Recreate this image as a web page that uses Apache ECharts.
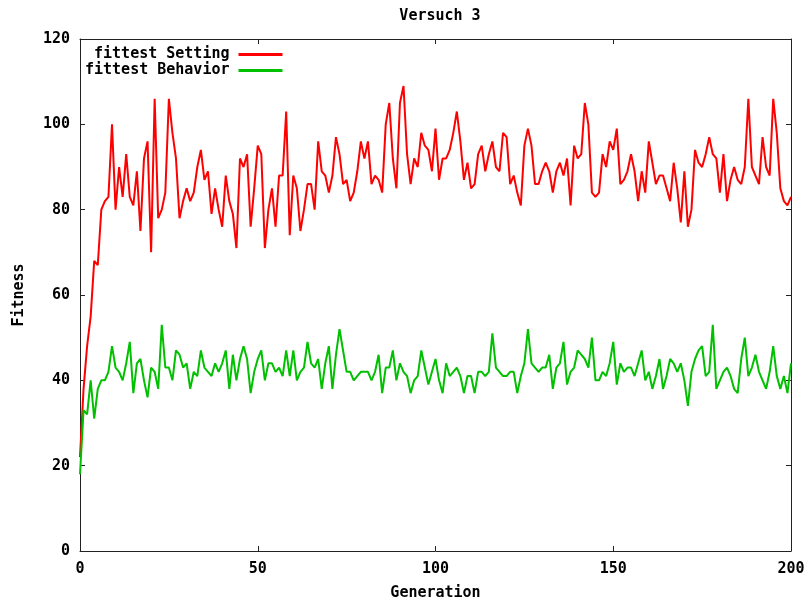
<!DOCTYPE html>
<html>
<head>
    <meta http-equiv="content-type" content="text/html; charset=utf-8">
    <script src="https://cdn.jsdelivr.net/npm/echarts@6/dist/echarts.min.js"></script>
    <style>
        html, body { margin: 0; padding: 0; background: #fff; }
        #main { width: 808px; height: 600px; }
    </style>
</head>
<body>
<div id="main"></div>
<script>
    // Werte pro Generation 0..200
    var fittestSetting = [
        22, 38, 48, 55, 68, 67, 80, 82, 83, 100,
        80, 90, 83, 93, 83, 81, 89, 75, 92, 96,
        70, 106, 78, 80, 84, 106, 98, 92, 78, 82,
        85, 82, 84, 90, 94, 87, 89, 79, 85, 80,
        76, 88, 82, 79, 71, 92, 90, 93, 76, 85,
        95, 93, 71, 80, 85, 76, 88, 88, 103, 74,
        88, 85, 75, 80, 86, 86, 80, 96, 89, 88,
        84, 88, 97, 93, 86, 87, 82, 84, 89, 96,
        92, 96, 86, 88, 87, 84, 100, 105, 92, 85,
        105, 109, 93, 86, 92, 90, 98, 95, 94, 89,
        99, 87, 92, 92, 94, 98, 103, 96, 87, 91,
        85, 86, 93, 95, 89, 93, 96, 90, 89, 98,
        97, 86, 88, 84, 81, 95, 99, 95, 86, 86,
        89, 91, 89, 84, 89, 91, 88, 92, 81, 95,
        92, 93, 105, 100, 84, 83, 84, 93, 90, 96,
        94, 99, 86, 87, 89, 93, 89, 82, 89, 84,
        96, 91, 86, 88, 88, 85, 82, 91, 85, 77,
        89, 76, 80, 94, 91, 90, 93, 97, 93, 92,
        84, 93, 82, 87, 90, 87, 86, 90, 106, 90,
        88, 86, 97, 90, 88, 106, 98, 85, 82, 81,
        83
    ];
    var fittestBehavior = [
        18, 33, 32, 40, 31, 38, 40, 40, 42, 48,
        43, 42, 40, 44, 49, 37, 44, 45, 40, 36,
        43, 42, 38, 53, 43, 43, 40, 47, 46, 43,
        44, 38, 42, 41, 47, 43, 42, 41, 44, 42,
        44, 47, 38, 46, 40, 45, 48, 45, 37, 42,
        45, 47, 40, 44, 44, 42, 43, 41, 47, 41,
        47, 40, 42, 43, 49, 44, 43, 45, 38, 44,
        48, 38, 46, 52, 47, 42, 42, 40, 41, 42,
        42, 42, 40, 42, 46, 37, 43, 43, 47, 40,
        44, 42, 41, 37, 40, 41, 47, 43, 39, 42,
        45, 40, 37, 44, 41, 42, 43, 41, 37, 41,
        41, 37, 42, 42, 41, 42, 51, 43, 42, 41,
        41, 42, 42, 37, 41, 44, 52, 44, 43, 42,
        43, 43, 46, 38, 43, 44, 49, 39, 42, 43,
        47, 46, 45, 43, 50, 40, 40, 42, 41, 44,
        49, 39, 44, 42, 43, 43, 41, 44, 47, 40,
        42, 38, 41, 45, 38, 41, 45, 44, 42, 44,
        40, 34, 42, 45, 47, 48, 41, 42, 53, 38,
        40, 42, 43, 41, 38, 37, 45, 50, 41, 43,
        46, 42, 40, 38, 42, 48, 41, 38, 41, 37,
        44
    ];
    var generations = fittestSetting.map(function (v, i) { return i; });

    var font = 'DejaVu Sans Mono';
    var txt = { fontFamily: font, fontWeight: 'bold', fontSize: 15, color: '#000' };

    function pairs(values) {
        return generations.map(function (g, i) { return [g, values[i]]; });
    }

    var axisLine = { show: true, onZero: false, lineStyle: { color: '#222', width: 1 } };
    var tick = { show: true, inside: true, length: 5, lineStyle: { color: '#222' } };

    var option = {
        animation: false,
        backgroundColor: '#fff',
        title: {
            text: 'Versuch 3',
            left: 435,
            top: 4,
            textAlign: 'center',
            textStyle: txt
        },
        grid: { left: 80, right: 17, top: 39, bottom: 49, outerBoundsMode: 'none' },
        legend: {
            orient: 'vertical',
            left: 80,
            top: 42,
            align: 'right',
            itemWidth: 44,
            itemHeight: 3,
            itemGap: 1,
            icon: 'rect',
            // Leerzeichen vorne, damit die Texte rechtsbuendig stehen (Monospace)
            formatter: function (name) { return name === 'fittest Setting' ? ' ' + name : name; },
            textStyle: Object.assign({}, txt, { padding: [0, 4, 0, 0] }),
            data: ['fittest Setting', 'fittest Behavior']
        },
        xAxis: [{
            type: 'value',
            min: 0, max: 200, interval: 50,
            name: 'Generation',
            nameLocation: 'middle',
            nameGap: 35,
            nameTextStyle: txt,
            axisLine: axisLine,
            axisTick: tick,
            axisLabel: Object.assign({}, txt, { margin: 11 }),
            splitLine: { show: false }
        }, {
            type: 'value',
            position: 'top',
            min: 0, max: 200, interval: 50,
            axisLine: axisLine,
            axisTick: tick,
            axisLabel: { show: false },
            splitLine: { show: false }
        }],
        yAxis: [{
            type: 'value',
            min: 0, max: 120, interval: 20,
            name: 'Fitness',
            nameLocation: 'middle',
            nameGap: 53,
            nameRotate: 90,
            nameTextStyle: txt,
            axisLine: axisLine,
            axisTick: tick,
            axisLabel: Object.assign({}, txt, { margin: 10 }),
            splitLine: { show: false }
        }, {
            type: 'value',
            position: 'right',
            min: 0, max: 120, interval: 20,
            axisLine: axisLine,
            axisTick: tick,
            axisLabel: { show: false },
            splitLine: { show: false }
        }],
        series: [{
            name: 'fittest Setting',
            type: 'line',
            showSymbol: false,
            color: '#ff0000',
            lineStyle: { width: 2, color: '#ff0000' },
            data: pairs(fittestSetting)
        }, {
            name: 'fittest Behavior',
            type: 'line',
            showSymbol: false,
            color: '#00c000',
            lineStyle: { width: 2, color: '#00c000' },
            data: pairs(fittestBehavior)
        }]
    };

    var chart = echarts.init(document.getElementById('main'));
    chart.setOption(option);
</script>
</body>
</html>
